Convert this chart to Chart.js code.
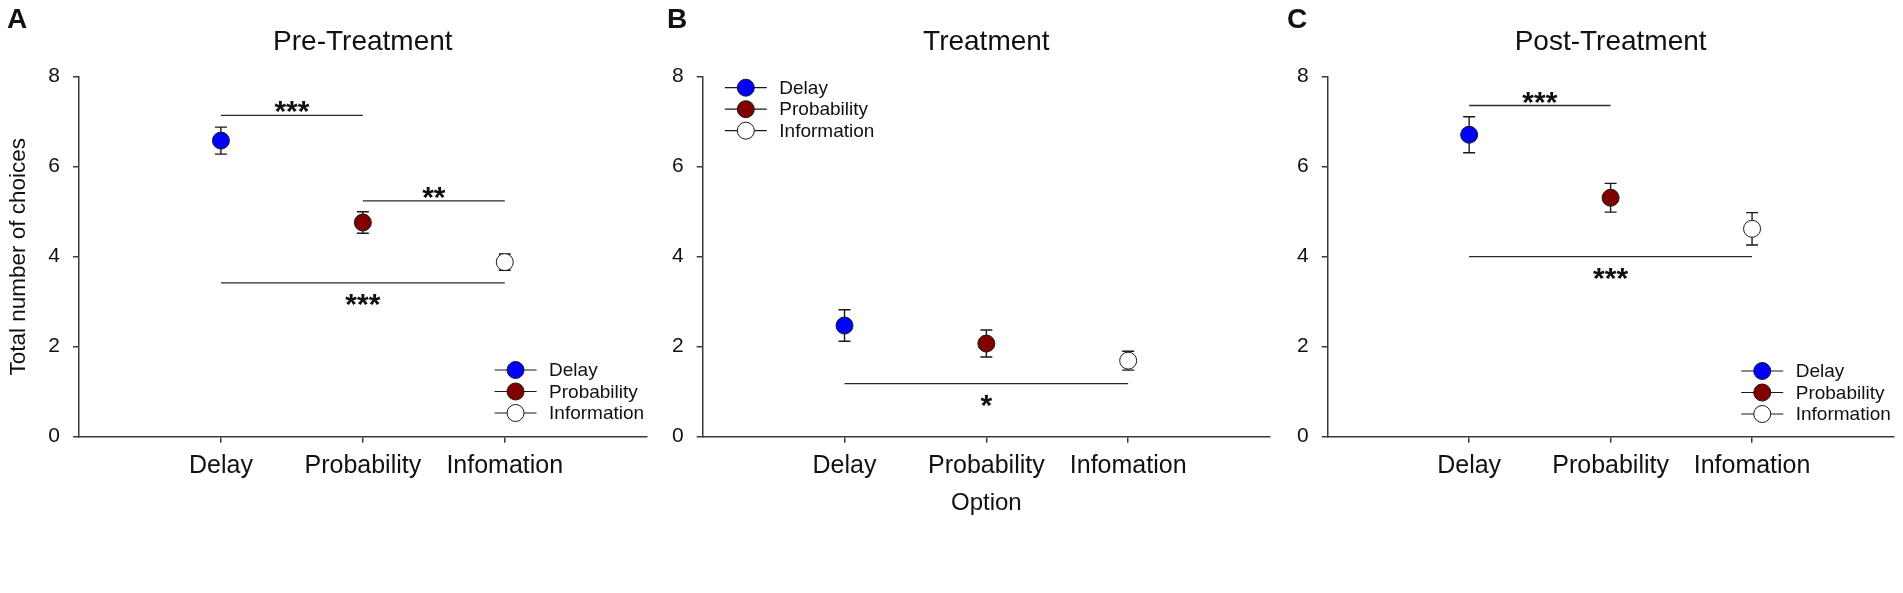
<!DOCTYPE html>
<html>
<head>
<meta charset="utf-8">
<script src="https://cdn.jsdelivr.net/npm/chart.js@4.4.1/dist/chart.umd.min.js"></script>
<style>
  html, body { margin: 0; padding: 0; background: #fff; }
  #wrap { position: relative; width: 1903px; height: 593px; }
  #wrap canvas { position: absolute; top: 0; }
</style>
</head>
<body>
<div id="wrap">
  <canvas id="panelA" width="660" height="593"></canvas>
  <canvas id="panelB" width="620" height="593"></canvas>
  <canvas id="panelC" width="623" height="593"></canvas>
</div>
<script>
const seriesNames = ['Delay', 'Probability', 'Information'];
const tickLabels = ['Delay', 'Probability', 'Infomation'];
const categoryPos = [1, 2, 3];

const preMeans = [6.58, 4.76, 3.88];
const preErrors = [0.30, 0.24, 0.18];
const treatMeans = [2.47, 2.07, 1.69];
const treatErrors = [0.35, 0.30, 0.21];
const postMeans = [6.71, 5.31, 4.62];
const postErrors = [0.40, 0.32, 0.36];

// significance bars: from, to, y, stars, label side
const preSig = [[1, 2, 7.14, '***', 'above'], [2, 3, 5.24, '**', 'above'], [1, 3, 3.42, '***', 'below']];
const treatSig = [[1, 3, 1.18, '*', 'below']];
const postSig = [[1, 2, 7.36, '***', 'above'], [1, 3, 4.0, '***', 'below']];

const pointColors = ['#0000ff', '#800000', '#ffffff'];
const FONT = "'Liberation Sans', Arial, sans-serif";
const INK = '#111';
const AXIS = '#3a3a3a';

const panels = [
  { id: 'panelA', left: 0, axisW: 79, padRight: 13.3, letter: 'A', title: 'Pre-Treatment',
    means: preMeans, errs: preErrors, sig: preSig, yTitle: 'Total number of choices', xTitle: '',
    legend: { fx: 0.769, top: 370 } },
  { id: 'panelB', left: 660, axisW: 42.7, padRight: 10, letter: 'B', title: 'Treatment',
    means: treatMeans, errs: treatErrors, sig: treatSig, yTitle: '', xTitle: 'Option',
    legend: { fx: 0.076, top: 87.7 } },
  { id: 'panelC', left: 1280, axisW: 47.7, padRight: 8, letter: 'C', title: 'Post-Treatment',
    means: postMeans, errs: postErrors, sig: postSig, yTitle: '', xTitle: '',
    legend: { fx: 0.768, top: 371 } }
];

const errorBars = {
  id: 'errorBars',
  beforeDatasetsDraw(chart) {
    const { ctx, scales: { y } } = chart;
    ctx.save();
    ctx.strokeStyle = '#1a1a1a';
    ctx.lineWidth = 1.4;
    chart.data.datasets.forEach((ds, i) => {
      const pt = chart.getDatasetMeta(i).data[0];
      const v = ds.data[0].y, e = ds.errors[0];
      const yt = y.getPixelForValue(v + e), yb = y.getPixelForValue(v - e);
      ctx.beginPath();
      ctx.moveTo(pt.x, yt); ctx.lineTo(pt.x, yb);
      ctx.moveTo(pt.x - 6, yt); ctx.lineTo(pt.x + 6, yt);
      ctx.moveTo(pt.x - 6, yb); ctx.lineTo(pt.x + 6, yb);
      ctx.stroke();
    });
    ctx.restore();
  }
};

const decorations = {
  id: 'decorations',
  afterDraw(chart, args, opts) {
    const { ctx, chartArea: ca, scales: { x, y } } = chart;
    ctx.save();
    ctx.fillStyle = INK;
    // panel letter and title
    ctx.font = 'bold 28px ' + FONT;
    ctx.textAlign = 'left';
    ctx.textBaseline = 'alphabetic';
    ctx.fillText(opts.letter, 7, 28);
    ctx.font = '28px ' + FONT;
    ctx.textAlign = 'center';
    ctx.fillText(opts.title, (ca.left + ca.right) / 2, 50);

    // significance bars
    ctx.strokeStyle = '#2a2a2a';
    ctx.lineWidth = 1.3;
    ctx.font = 'bold 30px ' + FONT;
    opts.sig.forEach(([a, b, v, stars, side]) => {
      const x1 = x.getPixelForValue(a), x2 = x.getPixelForValue(b), yy = y.getPixelForValue(v);
      ctx.beginPath();
      ctx.moveTo(x1, yy); ctx.lineTo(x2, yy);
      ctx.stroke();
      const cy = side === 'above' ? yy - 12 : yy + 13;
      ctx.fillText(stars, (x1 + x2) / 2, cy + 18);
    });

    // legend
    const lx = ca.left + opts.legend.fx * (ca.right - ca.left);
    ctx.font = '19px ' + FONT;
    ctx.textAlign = 'left';
    ctx.textBaseline = 'middle';
    seriesNames.forEach((name, i) => {
      const ly = opts.legend.top + i * 21.5;
      ctx.strokeStyle = '#1a1a1a';
      ctx.lineWidth = 1.2;
      ctx.beginPath();
      ctx.moveTo(lx - 21, ly); ctx.lineTo(lx + 21, ly);
      ctx.stroke();
      ctx.beginPath();
      ctx.arc(lx, ly, 8.5, 0, Math.PI * 2);
      ctx.fillStyle = pointColors[i];
      ctx.fill();
      ctx.lineWidth = 1;
      ctx.stroke();
      ctx.fillStyle = INK;
      ctx.fillText(name, lx + 33.5, ly + 1);
    });
    ctx.restore();
  }
};

panels.forEach(p => {
  const canvas = document.getElementById(p.id);
  canvas.style.left = p.left + 'px';
  new Chart(canvas, {
    type: 'scatter',
    data: {
      datasets: seriesNames.map((name, i) => ({
        label: name,
        data: [{ x: categoryPos[i], y: p.means[i] }],
        errors: [p.errs[i]],
        backgroundColor: pointColors[i],
        borderColor: '#1a1a1a',
        borderWidth: 1,
        pointRadius: 8.5,
        pointHoverRadius: 8.5
      }))
    },
    options: {
      responsive: false,
      animation: false,
      devicePixelRatio: 1,
      layout: { padding: { top: 76.7, right: p.padRight, bottom: 0, left: 0 } },
      plugins: {
        legend: { display: false },
        tooltip: { enabled: false },
        decorations: { letter: p.letter, title: p.title, sig: p.sig, legend: p.legend }
      },
      scales: {
        x: {
          type: 'linear', min: 0, max: 4,
          afterBuildTicks: s => { s.ticks = categoryPos.map(v => ({ value: v })); },
          afterFit: s => { s.height = 593 - 436.7; },
          border: { color: AXIS, width: 1.5 },
          grid: { drawOnChartArea: false, tickLength: 6, color: AXIS, lineWidth: 1.5 },
          ticks: {
            padding: 8, color: INK, font: { family: FONT, size: 25 },
            callback: v => tickLabels[categoryPos.indexOf(v)]
          },
          title: { display: !!p.xTitle, text: p.xTitle, color: INK,
                   font: { family: FONT, size: 24 }, padding: { top: 0, bottom: 75.6 } }
        },
        y: {
          min: 0, max: 8,
          afterFit: s => { s.width = p.axisW; },
          border: { color: AXIS, width: 1.5 },
          grid: { drawOnChartArea: false, tickLength: 6, color: AXIS, lineWidth: 1.5 },
          ticks: { stepSize: 2, padding: 13, color: INK, font: { family: FONT, size: 21 } },
          title: { display: !!p.yTitle, text: p.yTitle, color: INK,
                   font: { family: FONT, size: 22.5 }, padding: { top: 5, bottom: 0 } }
        }
      }
    },
    plugins: [errorBars, decorations]
  });
});
</script>
</body>
</html>
